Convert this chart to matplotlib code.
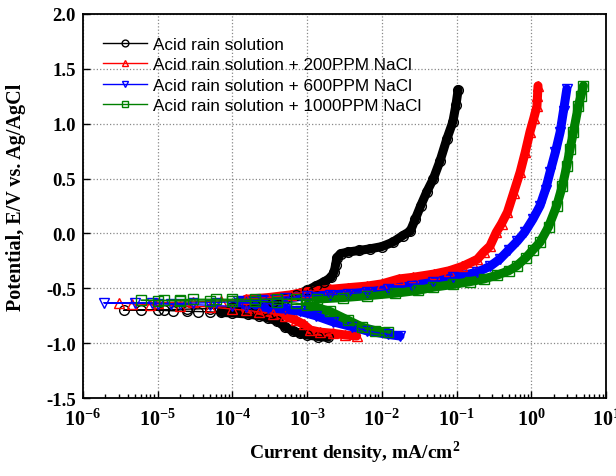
import numpy as np
import matplotlib
matplotlib.use("Agg")
import matplotlib.pyplot as plt

plt.rcParams['mathtext.fontset'] = 'custom'
plt.rcParams['mathtext.bf'] = 'Liberation Serif:bold'
plt.rcParams['mathtext.rm'] = 'Liberation Serif:bold'

# 電流密度 (mA/cm2) と電位 (V vs. Ag/AgCl)  カソード側 -> 腐食電位 -> アノード側
acid_i = [1.9e-3, 1.4e-3, 1.0e-3, 8e-4, 6.5e-4, 5e-4, 4e-4, 3e-4, 2.3e-4, 1.6e-4,
          1e-4, 7e-5, 5e-5, 3.5e-5, 2.5e-5, 1.6e-5, 1e-5, 6e-6, 3.5e-6,
          1.2e-5, 2.5e-5, 5e-5, 1e-4, 2e-4, 3.5e-4, 5e-4, 7e-4, 1e-3, 1.3e-3,
          1.7e-3, 2.1e-3, 2.3e-3, 2.4e-3, 2.5e-3, 2.8e-3, 3.5e-3, 5e-3, 7e-3,
          1e-2, 1.4e-2, 1.9e-2, 2.4e-2, 2.8e-2, 3.3e-2, 4e-2, 4.9e-2, 6e-2,
          7.4e-2, 8.9e-2, 9.8e-2, 1.05e-1]
acid_E = [-0.947, -0.94, -0.925, -0.91, -0.89, -0.85, -0.80, -0.77, -0.75, -0.735,
          -0.725, -0.72, -0.715, -0.712, -0.71, -0.705, -0.70, -0.70, -0.70,
          -0.695, -0.69, -0.685, -0.675, -0.655, -0.625, -0.595, -0.56, -0.52, -0.48,
          -0.44, -0.40, -0.35, -0.29, -0.22, -0.185, -0.17, -0.155, -0.14,
          -0.12, -0.08, -0.02, 0.02, 0.13, 0.25, 0.38, 0.50, 0.66,
          0.86, 1.015, 1.17, 1.31]

nacl200_i = [4.6e-3, 3.2e-3, 2.2e-3, 1.5e-3, 1.1e-3, 9e-4, 7e-4, 5e-4, 3.5e-4, 2.3e-4,
             1.5e-4, 1e-4, 5e-5, 2e-5, 8e-6, 4.5e-6, 3e-6,
             1e-5, 3e-5, 7e-5, 1.5e-4, 3e-4, 6e-4, 1e-3, 2e-3, 3.5e-3, 6.3e-3,
             1e-2, 1.7e-2, 2.6e-2, 5e-2, 8e-2, 1.2e-1, 1.6e-1, 1.9e-1, 2.3e-1,
             2.8e-1, 3.4e-1, 4e-1, 4.8e-1, 5.8e-1, 7.1e-1, 8.3e-1, 9.6e-1, 1.08,
             1.19, 1.21, 1.23]
nacl200_E = [-0.935, -0.925, -0.91, -0.90, -0.88, -0.83, -0.79, -0.75, -0.73, -0.715,
             -0.70, -0.69, -0.67, -0.66, -0.65, -0.64, -0.635,
             -0.63, -0.625, -0.615, -0.60, -0.585, -0.56, -0.53, -0.51, -0.495, -0.48,
             -0.46, -0.415, -0.40, -0.37, -0.34, -0.30, -0.26, -0.235, -0.17,
             -0.115, 0.01, 0.09, 0.195, 0.37, 0.56, 0.74, 0.925, 1.05,
             1.16, 1.25, 1.345]

nacl600_i = [1.75e-2, 1.2e-2, 6.3e-3, 4e-3, 2.2e-3, 1.3e-3, 8e-4, 5e-4, 3e-4, 1.5e-4,
             1e-4, 5e-5, 2e-5, 1e-5, 5e-6, 1.9e-6,
             8.5e-6, 1.5e-5, 3e-5, 6e-5, 1.2e-4, 2.5e-4, 5e-4, 1e-3, 2e-3, 3.5e-3,
             6.3e-3, 1.2e-2, 2.5e-2, 4.9e-2, 9e-2, 1.86e-1, 2.8e-1, 3.8e-1, 5e-1,
             6.5e-1, 8.2e-1, 1.05, 1.31, 1.55, 1.78, 2.1, 2.43, 2.7, 2.99]
nacl600_E = [-0.935, -0.92, -0.888, -0.85, -0.805, -0.75, -0.71, -0.69, -0.68, -0.67,
             -0.665, -0.655, -0.645, -0.64, -0.635, -0.632,
             -0.635, -0.64, -0.635, -0.63, -0.62, -0.605, -0.59, -0.57, -0.56, -0.55,
             -0.535, -0.51, -0.475, -0.446, -0.40, -0.355, -0.30, -0.233, -0.15,
             -0.07, 0.013, 0.13, 0.253, 0.40, 0.557, 0.74, 0.922, 1.12, 1.316]

nacl1000_i = [1.2e-2, 8e-3, 5.5e-3, 3.5e-3, 2e-3, 1e-3, 7e-4, 4e-4, 2e-4, 1e-4,
              5e-5, 2e-5, 1e-5, 6e-6,
              1.2e-5, 2e-5, 3e-5, 6e-5, 1e-4, 2e-4, 4e-4, 7e-4, 1.35e-3, 3e-3,
              6.3e-3, 1.5e-2, 3e-2, 4.9e-2, 9e-2, 1.5e-1, 2.3e-1, 3.5e-1, 5e-1,
              6.4e-1, 8.5e-1, 1.05, 1.31, 1.7, 2.19, 2.6, 2.99, 3.3, 3.66, 4.27,
              4.6, 4.99]
nacl1000_E = [-0.90, -0.885, -0.855, -0.79, -0.71, -0.65, -0.635, -0.625, -0.62, -0.615,
              -0.615, -0.615, -0.612, -0.61,
              -0.61, -0.605, -0.60, -0.60, -0.60, -0.60, -0.60, -0.60, -0.598, -0.585,
              -0.568, -0.545, -0.52, -0.49, -0.465, -0.44, -0.416, -0.38, -0.34,
              -0.295, -0.22, -0.15, -0.08, 0.06, 0.253, 0.43, 0.617, 0.77, 0.922, 1.164,
              1.25, 1.346]

labels = ["Acid rain solution",
          "Acid rain solution + 200PPM NaCl",
          "Acid rain solution + 600PPM NaCl",
          "Acid rain solution + 1000PPM NaCl"]

series = [(acid_i, acid_E, 'black', 'o', 5e-5),
          (nacl200_i, nacl200_E, 'red', '^', 1e-4),
          (nacl600_i, nacl600_E, 'blue', 'v', 1e-4),
          (nacl1000_i, nacl1000_E, 'green', 's', 7e-4)]

fig = plt.figure(figsize=(6.16, 4.77), dpi=100)
ax = fig.add_axes([0.1347, 0.1635, 0.8491, 0.8051])

for (cur, pot, col, mk, thr), lab in zip(series, labels):
    cur = np.array(cur)
    pot = np.array(pot)
    # 密な区間は太線で帯状に見せる
    band = np.where(cur > thr, pot, np.nan)
    ax.plot(cur, band, color=col, lw=6.5, solid_capstyle='round', zorder=2)
    ax.plot(cur, pot, color=col, lw=1, marker=mk, ms=7, mfc='none',
            mec=col, mew=1, label=lab, zorder=3)

ax.set_xscale('log')
ax.set_xlim(1e-6, 1e1)
ax.set_ylim(-1.5, 2.0)
ax.set_yticks(np.arange(-1.5, 2.01, 0.5))
ax.set_yticklabels([f"{v:.1f}" for v in np.arange(-1.5, 2.01, 0.5)],
                   fontfamily='Liberation Serif', fontweight='bold', fontsize=13.5)
xt = [10.0**k for k in range(-6, 2)]
ax.set_xticks(xt)
ax.set_xticklabels([r"$\mathbf{10^{%d}}$" % k for k in range(-6, 2)], fontsize=14.5)
ax.xaxis.set_minor_locator(matplotlib.ticker.LogLocator(base=10, subs=np.arange(2, 10), numticks=20))
ax.xaxis.set_minor_formatter(matplotlib.ticker.NullFormatter())

ax.tick_params(which='major', direction='in', length=5, width=1, pad=5)
ax.tick_params(which='minor', direction='in', length=3, width=1)
ax.tick_params(axis='x', pad=7)
for s in ax.spines.values():
    s.set_linewidth(1.3)

ax.grid(True, which='major', ls=':', color='#888888', lw=0.9)
ax.set_axisbelow(True)

ax.set_xlabel(r"Current density, mA/cm$^\mathbf{2}$", fontfamily='Liberation Serif',
              fontweight='bold', fontsize=14)
ax.xaxis.set_label_coords(0.52, -0.105)
ax.set_ylabel("Potential, E/V vs. Ag/AgCl", fontfamily='Liberation Serif',
              fontweight='bold', fontsize=14.5)
ax.yaxis.set_label_coords(-0.108, 0.526)

ax.legend(loc='upper left', bbox_to_anchor=(0.025, 0.957), frameon=False,
          prop={'family': 'Liberation Sans', 'size': 12.3}, markerscale=0.7,
          handlelength=2.6, handletextpad=0.35, labelspacing=0.3, borderaxespad=0)

fig.savefig("out.png", dpi=100)
